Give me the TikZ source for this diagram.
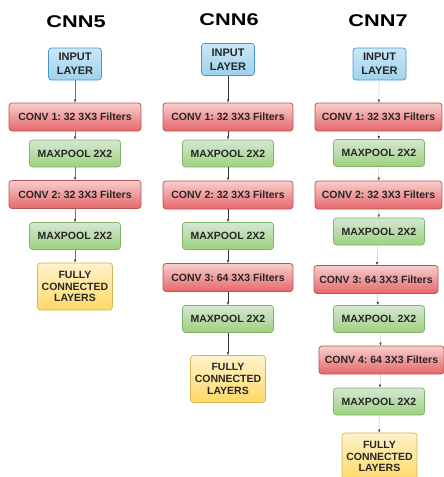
\documentclass[tikz,border=0pt]{standalone}
\usepackage{fontspec}
\setmainfont{Liberation Sans}
\usetikzlibrary{arrows.meta}
\frenchspacing

\definecolor{intop}{HTML}{C9E8F7}
\definecolor{inbot}{HTML}{9FD2EC}
\definecolor{inline}{HTML}{4A9AC8}
\definecolor{convtop}{HTML}{F8CECC}
\definecolor{convbot}{HTML}{E6676A}
\definecolor{convline}{HTML}{B85450}
\definecolor{pooltop}{HTML}{D5E8D4}
\definecolor{poolbot}{HTML}{9DD07F}
\definecolor{poolline}{HTML}{82B366}
\definecolor{fctop}{HTML}{FFF2CC}
\definecolor{fcbot}{HTML}{FFD966}
\definecolor{fcline}{HTML}{D6B656}

\tikzset{
  box/.style={draw, rounded corners=3pt, line width=0.7pt, align=center, inner sep=0pt,
    font=\bfseries\fontsize{10.5}{12.5}\selectfont, text=black!85},
  inbox/.style={box, draw=inline, top color=intop, bottom color=inbot,
    minimum width=53pt, minimum height=32pt, font=\bfseries\fontsize{11}{14}\selectfont},
  convbox/.style={box, draw=convline, top color=convtop, bottom color=convbot,
    minimum width=130pt, minimum height=28pt},
  poolbox/.style={box, draw=poolline, top color=pooltop, bottom color=poolbot,
    minimum width=91pt, minimum height=27pt},
  fcbox/.style={box, draw=fcline, top color=fctop, bottom color=fcbot,
    minimum width=75pt, minimum height=47pt, font=\bfseries\fontsize{10.5}{11.8}\selectfont},
  title/.style={font=\bfseries\fontsize{17}{19}\selectfont, inner sep=0pt},
  link/.style={line width=0.5pt, -{Latex[length=3pt,width=2.5pt,color=black!75]}}
}

\begin{document}
\begin{tikzpicture}[x=1pt,y=-1pt]
	\useasboundingbox (0,0) rectangle (444,477);
	% CNN5
	\node[title] (t5) at (76,22) {\scalebox{1.28}[1]{CNN5}};
	\node[inbox] (in5) at (75,64) {INPUT\\LAYER};
	\node[convbox,minimum width=132pt] (conv51) at (75,117) {CONV 1: 32 3X3 Filters};
	\node[poolbox] (pool51) at (75,153.5) {MAXPOOL 2X2};
	\node[convbox,minimum width=132pt] (conv52) at (75,194.5) {CONV 2: 32 3X3 Filters};
	\node[poolbox] (pool52) at (75,236) {MAXPOOL 2X2};
	\node[fcbox] (fc5) at (75,286.5) {FULLY\\CONNECTED\\LAYERS};
	% CNN6
	\node[title] (t6) at (229,20) {\scalebox{1.28}[1]{CNN6}};
	\node[inbox] (in6) at (228,59.5) {INPUT\\LAYER};
	\node[convbox] (conv61) at (228,117) {CONV 1: 32 3X3 Filters};
	\node[poolbox] (pool61) at (228,153.5) {MAXPOOL 2X2};
	\node[convbox] (conv62) at (228,195) {CONV 2: 32 3X3 Filters};
	\node[poolbox] (pool62) at (228,236) {MAXPOOL 2X2};
	\node[convbox] (conv63) at (228,277.5) {CONV 3: 64 3X3 Filters};
	\node[poolbox] (pool63) at (228,319) {MAXPOOL 2X2};
	\node[fcbox] (fc6) at (228,379) {FULLY\\CONNECTED\\LAYERS};
	% CNN7
	\node[title] (t7) at (378,21) {\scalebox{1.28}[1]{CNN7}};
	\node[inbox] (in7) at (379.5,64) {INPUT\\LAYER};
	\node[convbox,minimum width=127pt] (conv71) at (378.5,117) {CONV 1: 32 3X3 Filters};
	\node[poolbox] (pool71) at (379,153) {MAXPOOL 2X2};
	\node[convbox,minimum width=127pt] (conv72) at (378.5,195) {CONV 2: 32 3X3 Filters};
	\node[poolbox] (pool72) at (379,231.5) {MAXPOOL 2X2};
	\node[convbox,minimum width=124pt] (conv73) at (376,279.5) {CONV 3: 64 3X3 Filters};
	\node[poolbox] (pool73) at (379,319) {MAXPOOL 2X2};
	\node[convbox,minimum width=125pt] (conv74) at (381.5,360) {CONV 4: 64 3X3 Filters};
	\node[poolbox] (pool74) at (379,401.5) {MAXPOOL 2X2};
	\node[fcbox] (fc7) at (379.5,456.5) {FULLY\\CONNECTED\\LAYERS};
	% connectors
	\foreach \a / \b in {in5/conv51, conv51/pool51, pool51/conv52, conv52/pool52, pool52/fc5}
	\draw[link,black!55] (\a) -- (\b);
	\foreach \a / \b in {in6/conv61, conv61/pool61, pool61/conv62, conv62/pool62, pool62/conv63, conv63/pool63, pool63/fc6}
	\draw[link,black!80] (\a) -- (\b);
	\foreach \a / \b in {in7/conv71, conv71/pool71, pool71/conv72, conv72/pool72, pool72/conv73, conv73/pool73, pool73/conv74, conv74/pool74, pool74/fc7}
	\draw[link,black!25] (\a) -- (\b);
\end{tikzpicture}
\end{document}
